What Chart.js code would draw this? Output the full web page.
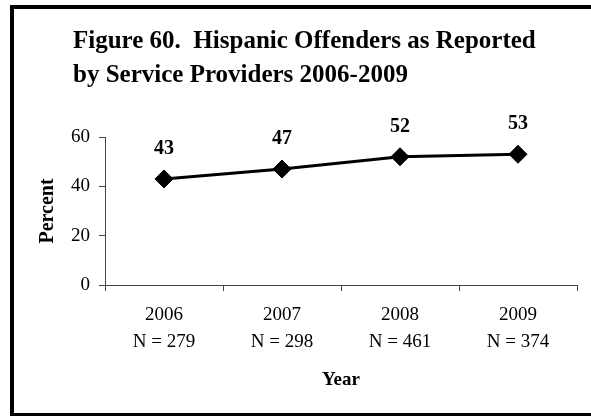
<!DOCTYPE html>
<html>
<head>
<meta charset="utf-8">
<script src="https://cdn.jsdelivr.net/npm/chart.js@4.4.1/dist/chart.umd.min.js"></script>
<style>
  html, body { margin: 0; padding: 0; background: #fff; }
  #wrap { position: relative; width: 591px; height: 416px; }
</style>
</head>
<body>
<div id="wrap"><canvas id="c" width="591" height="416"></canvas></div>
<script>
const titleLines = ['Figure 60.  Hispanic Offenders as Reported', 'by Service Providers 2006-2009'];
const years = ['2006', '2007', '2008', '2009'];
const sampleSizes = ['N = 279', 'N = 298', 'N = 461', 'N = 374'];
const percentValues = [43, 47, 52, 53];
const yTicks = [0, 20, 40, 60];
const yAxisTitle = 'Percent';
const xAxisTitle = 'Year';

const labels = years.map((y, i) => [y, sampleSizes[i]]);
const FONT = "'Liberation Serif', 'Times New Roman', serif";

const framePlugin = {
  id: 'frame',
  beforeDraw(chart) {
    const ctx = chart.ctx;
    ctx.save();
    ctx.fillStyle = '#fff';
    ctx.fillRect(0, 0, chart.width, chart.height);
    ctx.fillStyle = '#000';
    ctx.fillRect(10, 5, 4, 409);      // left edge
    ctx.fillRect(10, 5, 581, 4);      // top edge
    ctx.fillRect(10, 413, 581, 3);    // bottom edge
    ctx.restore();
  },
  afterDraw(chart) {
    const ctx = chart.ctx;
    ctx.save();
    ctx.fillStyle = '#000';
    ctx.font = "bold 25px " + FONT;
    ctx.textAlign = 'left';
    ctx.textBaseline = 'alphabetic';
    ctx.fillText(titleLines[0], 73, 48);
    ctx.fillText(titleLines[1], 73, 82);
    // data labels
    const meta = chart.getDatasetMeta(0);
    ctx.font = "bold 20px " + FONT;
    ctx.textAlign = 'center';
    ctx.textBaseline = 'middle';
    meta.data.forEach((pt, i) => {
      ctx.fillText(String(percentValues[i]), pt.x, pt.y - 30);
    });
    ctx.restore();
  }
};

new Chart(document.getElementById('c'), {
  type: 'line',
  data: {
    labels: labels,
    datasets: [{
      data: percentValues,
      borderColor: '#000',
      backgroundColor: '#000',
      borderWidth: 3,
      pointStyle: 'rectRot',
      pointRadius: 9,
      pointHoverRadius: 9,
      pointBackgroundColor: '#000',
      pointBorderColor: '#000',
      pointBorderWidth: 1,
      tension: 0,
      fill: false
    }]
  },
  options: {
    responsive: false,
    animation: false,
    events: [],
    layout: { padding: { left: 0, right: 14, top: 137, bottom: 0 } },
    plugins: {
      legend: { display: false },
      tooltip: { enabled: false },
      title: { display: false }
    },
    scales: {
      x: {
        type: 'category',
        offset: true,
        grid: { display: true, offset: true, drawOnChartArea: false, drawTicks: true, tickLength: 6, color: '#444', lineWidth: 1 },
        border: { display: true, color: '#444', width: 1 },
        ticks: {
          color: '#000',
          font: { family: FONT, size: 19, lineHeight: 1.42 },
          padding: 11,
          maxRotation: 0,
          autoSkip: false
        },
        title: {
          display: true,
          text: xAxisTitle,
          color: '#000',
          font: { family: FONT, size: 19, weight: 'bold', lineHeight: 1.2 },
          padding: { top: 0, bottom: 25 }
        },
        afterFit(scale) { scale.height = 131; }
      },
      y: {
        min: 0,
        max: 60,
        afterBuildTicks(scale) { scale.ticks = yTicks.map(v => ({ value: v })); },
        grid: { display: true, drawOnChartArea: false, drawTicks: true, tickLength: 6, color: '#444', lineWidth: 1 },
        border: { display: true, color: '#444', width: 1 },
        ticks: {
          color: '#000',
          font: { family: FONT, size: 19 },
          padding: 9
        },
        title: {
          display: true,
          text: yAxisTitle,
          color: '#000',
          font: { family: FONT, size: 20, weight: 'bold', lineHeight: 1.2 },
          padding: { top: 36, bottom: 0 }
        },
        afterFit(scale) { scale.width = 105; }
      }
    }
  },
  plugins: [framePlugin]
});
</script>
</body>
</html>
